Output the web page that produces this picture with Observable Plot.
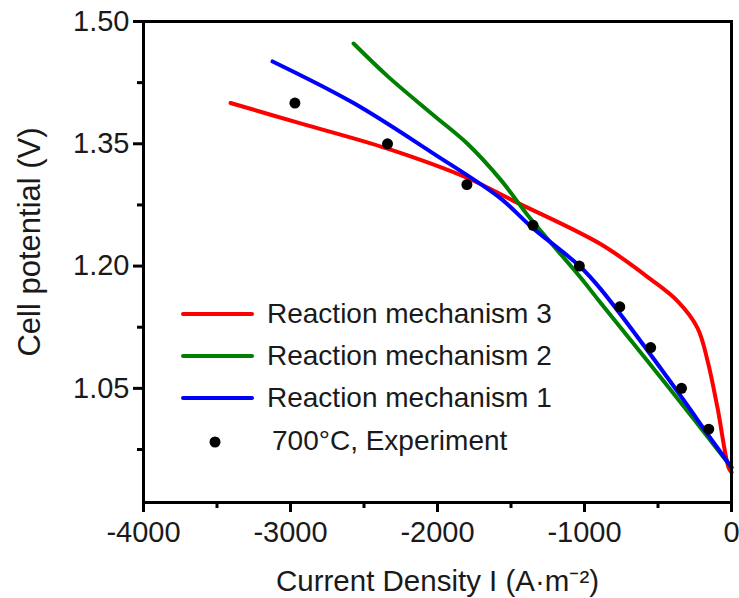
<!DOCTYPE html>
<html>
<head>
<meta charset="utf-8">
<script src="https://cdn.jsdelivr.net/npm/d3@7"></script>
<script src="https://cdn.jsdelivr.net/npm/@observablehq/plot@0.6"></script>
<style>
  body { margin: 0; background: #fff; }
  #chart { position: relative; width: 739px; height: 598px; }
  svg { font-family: "Liberation Sans", Arial, sans-serif; }
</style>
</head>
<body>
<div id="chart"></div>
<script>
// Experimental data (700°C)
const expI = [-2970, -2340, -1800, -1350, -1035, -760, -550, -340, -155];
const expV = [1.40, 1.35, 1.30, 1.25, 1.20, 1.15, 1.10, 1.05, 1.00];

// Reaction mechanism 3 (red)
const mech3I = [-3408, -2932, -2340, -1796, -1483, -891, -551, -367, -231, -163, -95, -20, 0];
const mech3V = [1.400, 1.375, 1.344, 1.308, 1.280, 1.227, 1.184, 1.157, 1.124, 1.084, 1.026, 0.953, 0.947];

// Reaction mechanism 2 (green)
const mech2I = [-2571, -2340, -2027, -1796, -1571, -1367, -1027, -891, -435, 0];
const mech2V = [1.473, 1.433, 1.385, 1.350, 1.306, 1.258, 1.186, 1.155, 1.053, 0.953];

// Reaction mechanism 1 (blue)
const mech1I = [-3122, -2571, -2027, -1571, -1367, -1034, -891, -435, -143, 0];
const mech1V = [1.451, 1.400, 1.338, 1.283, 1.249, 1.200, 1.172, 1.063, 0.989, 0.953];

// Axis ticks
const xTicks = [-4000, -3000, -2000, -1000, 0];
const xMinor = [-3500, -2500, -1500, -500];
const yTicks = [1.05, 1.20, 1.35, 1.50];
const yMinor = [0.975, 1.125, 1.275, 1.425];

const legendLabels = ["Reaction mechanism 3", "Reaction mechanism 2", "Reaction mechanism 1", "700°C, Experiment"];
const colors = ["#ff0000", "#008000", "#0000ff"];

const toRows = (I, V) => I.map((d, i) => ({I: d, V: V[i]}));
const exp = toRows(expI, expV);
const m3 = toRows(mech3I, mech3V);
const m2 = toRows(mech2I, mech2V);
const m1 = toRows(mech1I, mech1V);

const fs = 28;
const plot = Plot.plot({
  width: 739,
  height: 598,
  marginLeft: 143,
  marginRight: 8,
  marginTop: 21,
  marginBottom: 96,
  style: {fontFamily: '"Liberation Sans", Arial, sans-serif', background: "#fff", color: "#1a1a1a"},
  x: {domain: [-4000, 0]},
  y: {domain: [0.91, 1.50]},
  marks: [
    Plot.axisX({ticks: xTicks, tickSize: 10, tickPadding: 9, tickFormat: d => String(d), fontSize: 29, label: null, strokeWidth: 3, stroke: "#000"}),
    Plot.axisX({ticks: xMinor, tickSize: 6, tickFormat: () => "", label: null, strokeWidth: 3, stroke: "#000"}),
    Plot.axisY({ticks: yTicks, tickSize: 10, tickPadding: 4, tickFormat: d3.format(".2f"), fontSize: 29, label: null, strokeWidth: 3, stroke: "#000"}),
    Plot.axisY({ticks: yMinor, tickSize: 6, tickFormat: () => "", label: null, strokeWidth: 3, stroke: "#000"}),
    Plot.line(m3, {x: "I", y: "V", stroke: colors[0], strokeWidth: 4, curve: "catmull-rom"}),
    Plot.line(m2, {x: "I", y: "V", stroke: colors[1], strokeWidth: 4, curve: "catmull-rom"}),
    Plot.line(m1, {x: "I", y: "V", stroke: colors[2], strokeWidth: 4, curve: "catmull-rom"}),
    Plot.dot(exp, {x: "I", y: "V", r: 5.5, fill: "#000", stroke: null}),
    Plot.frame({stroke: "#000", strokeWidth: 3}),
    Plot.text(["Current Density I (A·m⁻²)"], {frameAnchor: "bottom", dy: 79, fontSize: 29.5, fill: "#1a1a1a", textAnchor: "middle", lineAnchor: "middle"}),
    Plot.text(["Cell potential (V)"], {frameAnchor: "left", dx: -113, dy: -20, rotate: -90, fontSize: 31, fill: "#1a1a1a", textAnchor: "middle", lineAnchor: "middle"})
  ]
});
document.getElementById("chart").appendChild(plot);

// Legend (inside the plot area)
const svg = d3.select(plot);
const lg = svg.append("g").attr("font-size", fs).attr("fill", "#1a1a1a").attr("text-anchor", "start");
const rowY = [314, 356, 398, 442];
legendLabels.forEach((lab, i) => {
  if (i < 3) {
    lg.append("line").attr("x1", 183).attr("x2", 252).attr("y1", rowY[i]).attr("y2", rowY[i])
      .attr("stroke", colors[i]).attr("stroke-width", 4).attr("stroke-linecap", "round");
    lg.append("text").attr("x", 267).attr("y", rowY[i] + 9).text(lab);
  } else {
    lg.append("circle").attr("cx", 215).attr("cy", rowY[i]).attr("r", 5.5).attr("fill", "#000");
    lg.append("text").attr("x", 272).attr("y", rowY[i] + 8).text(lab);
  }
});
</script>
</body>
</html>
